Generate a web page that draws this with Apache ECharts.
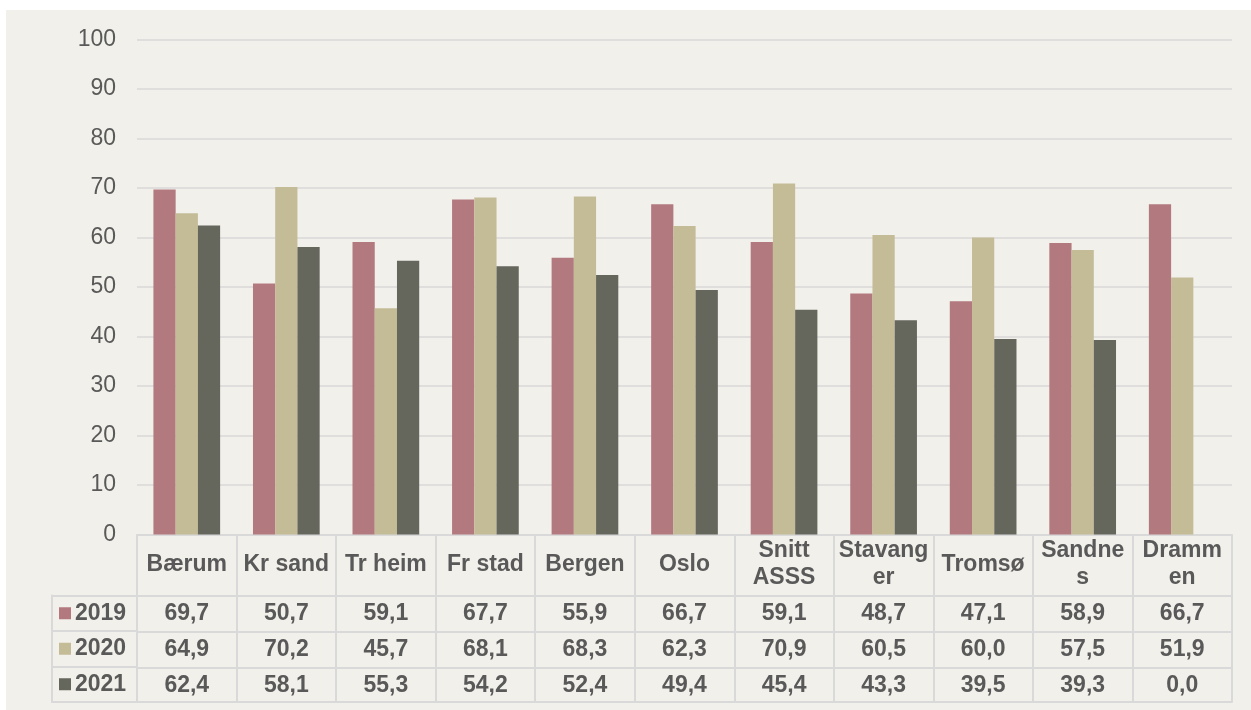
<!DOCTYPE html>
<html>
<head>
<meta charset="utf-8">
<script src="https://cdn.jsdelivr.net/npm/echarts@6/dist/echarts.min.js"></script>
<style>
  html, body { margin: 0; padding: 0; background: #ffffff; }
  #chart { position: absolute; left: 6px; top: 10px; width: 1245px; height: 700px; }
</style>
</head>
<body>
<div id="chart"></div>
<script>
// data
const categories = ['Bærum', 'Kr sand', 'Tr heim', 'Fr stad', 'Bergen', 'Oslo',
  'Snitt\nASSS', 'Stavang\ner', 'Tromsø', 'Sandne\ns', 'Dramm\nen']
const years = ['2019', '2020', '2021']
const values2019 = [69.7, 50.7, 59.1, 67.7, 55.9, 66.7, 59.1, 48.7, 47.1, 58.9, 66.7]
const values2020 = [64.9, 70.2, 45.7, 68.1, 68.3, 62.3, 70.9, 60.5, 60.0, 57.5, 51.9]
const values2021 = [62.4, 58.1, 55.3, 54.2, 52.4, 49.4, 45.4, 43.3, 39.5, 39.3, 0.0]
const yTicks = { min: 0, max: 100, step: 10 }

const rows = [values2019, values2020, values2021]
const colors = ['#B27A7F', '#C4BB97', '#65665C']
const textColor = '#595959'
const lineColor = '#D9D9D9'
const font = '"Liberation Sans", Arial, sans-serif'

const fmt = v => v.toFixed(1).replace('.', ',')

const chart = echarts.init(document.getElementById('chart'))

// one category axis per table row, each pushed down by offset
const rowOffsets = [61, 97, 133]
const rowAxes = rows.map((row, r) => ({
  type: 'category',
  gridIndex: 0,
  position: 'bottom',
  offset: rowOffsets[r],
  data: categories,
  axisLine: { show: true, lineStyle: { color: lineColor, width: 2 } },
  axisTick: { show: false },
  splitLine: { show: false },
  axisLabel: {
    interval: 0,
    margin: 18,
    verticalAlign: 'middle',
    color: textColor,
    fontFamily: font,
    fontWeight: 'bold',
    fontSize: 23,
    formatter: (val, i) => fmt(row[i])
  }
}))

chart.setOption({
  backgroundColor: '#F2F0EA',
  animation: false,
  grid: [
    { left: 131, right: 19, top: 29.5, bottom: 175.5 },
    { left: 46, width: 85, top: 585.5, height: 106.5 }
  ],
  xAxis: [
    {
      type: 'category',
      gridIndex: 0,
      data: categories,
      axisLine: { show: true, lineStyle: { color: lineColor, width: 2 } },
      axisTick: { show: true, interval: 0, length: 167.5, lineStyle: { color: lineColor, width: 2 } },
      axisLabel: {
        interval: 0,
        margin: 30,
        verticalAlign: 'middle',
        color: textColor,
        fontFamily: font,
        fontWeight: 'bold',
        fontSize: 23,
        lineHeight: 27
      }
    },
    ...rowAxes,
    {
      type: 'category',
      gridIndex: 0,
      position: 'bottom',
      offset: 167.5,
      data: categories,
      axisLine: { show: true, lineStyle: { color: lineColor, width: 2 } },
      axisTick: { show: false },
      axisLabel: { show: false }
    },
    // left column of the table
    {
      type: 'value', gridIndex: 1, position: 'top',
      axisLine: { show: true, onZero: false, lineStyle: { color: lineColor, width: 2 } },
      axisTick: { show: false }, axisLabel: { show: false }, splitLine: { show: false }
    },
    {
      type: 'value', gridIndex: 1, position: 'bottom',
      axisLine: { show: true, onZero: false, lineStyle: { color: lineColor, width: 2 } },
      axisTick: { show: false }, axisLabel: { show: false }, splitLine: { show: false }
    }
  ],
  yAxis: [
    {
      type: 'value',
      gridIndex: 0,
      min: yTicks.min,
      max: yTicks.max,
      interval: yTicks.step,
      axisLine: { show: false },
      axisTick: { show: false },
      axisLabel: { color: textColor, fontFamily: font, fontSize: 23, margin: 21 },
      splitLine: { lineStyle: { color: lineColor, width: 1.5 } }
    },
    {
      type: 'category',
      gridIndex: 1,
      inverse: true,
      data: years,
      axisLine: { show: true, lineStyle: { color: lineColor, width: 2 } },
      axisTick: { show: false },
      splitLine: { show: true, interval: 0, lineStyle: { color: lineColor, width: 2 } },
      axisLabel: {
        inside: true,
        margin: 7,
        interval: 0,
        formatter: (val, i) => '{b' + i + '|}{t|' + val + '}',
        rich: {
          b0: { width: 12, height: 12, backgroundColor: colors[0] },
          b1: { width: 12, height: 12, backgroundColor: colors[1] },
          b2: { width: 12, height: 12, backgroundColor: colors[2] },
          t: { color: textColor, fontFamily: font, fontWeight: 'bold', fontSize: 23, padding: [0, 0, 0, 4] }
        }
      }
    }
  ],
  series: rows.map((row, r) => ({
    name: years[r],
    type: 'bar',
    xAxisIndex: 0,
    yAxisIndex: 0,
    data: row,
    barGap: 0,
    barCategoryGap: '33%',
    itemStyle: { color: colors[r] }
  }))
})
</script>
</body>
</html>
